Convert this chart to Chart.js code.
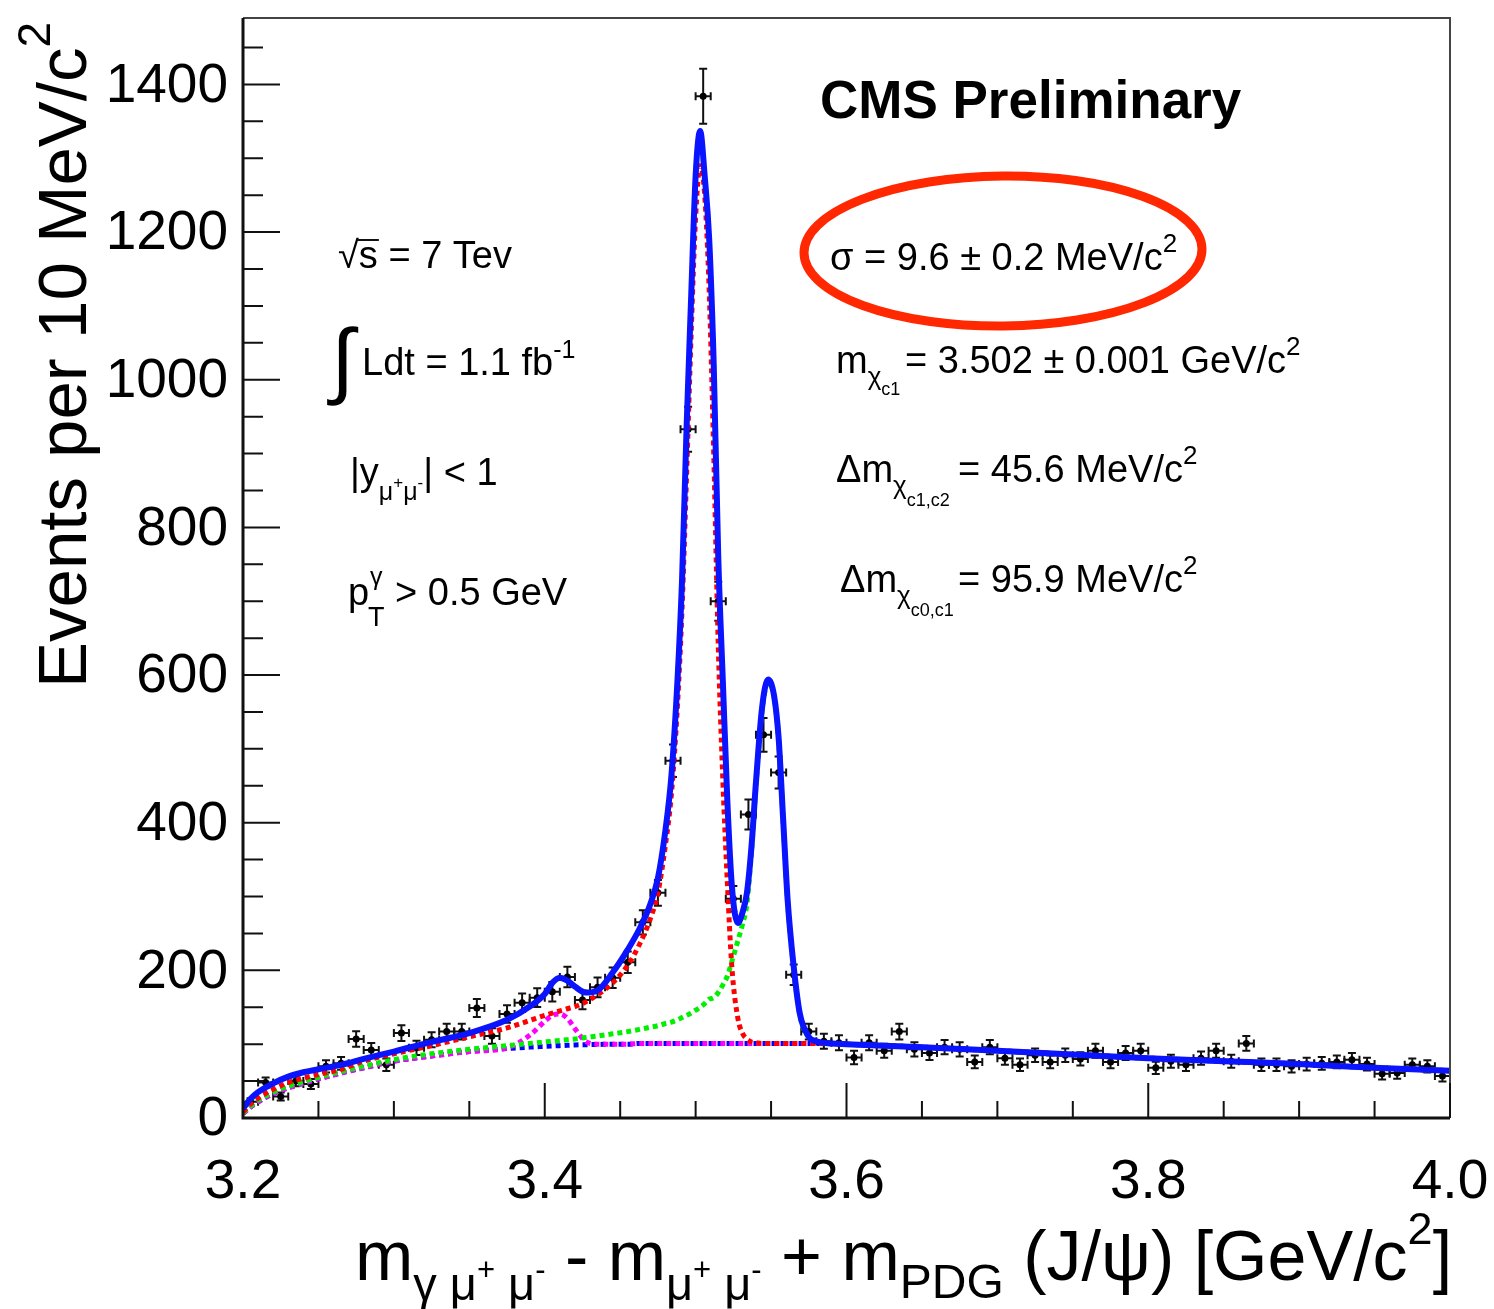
<!DOCTYPE html>
<html>
<head>
<meta charset="utf-8">
<script src="https://cdn.jsdelivr.net/npm/chart.js@4.4.1/dist/chart.umd.min.js"></script>
<style>
  html, body { margin: 0; padding: 0; background: #fff; }
  canvas { display: block; }
</style>
</head>
<body>
<canvas id="plot" width="1494" height="1309"></canvas>
<script>
// histogram: 10 MeV bins from 3.2 to 4.0 GeV
const binLow = 3.2;
const binWidth = 0.01;
const counts = [
  22, 48, 29, 50, 46, 70, 74, 107, 92, 72,
  115, 95, 106, 117, 117, 149, 111, 141, 156, 163,
  171, 191, 160, 177, 190, 211, 265, 305, 484, 933,
  1384, 700, 297, 411, 519, 468, 194, 117, 104, 102,
  82, 102, 91, 117, 93, 88, 96, 93, 76, 96,
  81, 72, 85, 76, 85, 80, 91, 76, 88, 91,
  68, 77, 72, 81, 91, 77, 101, 72, 72, 70,
  73, 74, 76, 79, 73, 60, 61, 72, 70, 57
];

// fit curves, sampled at fitX
const fitX = [
  3.200, 3.205, 3.210, 3.220, 3.230, 3.240, 3.250, 3.265, 3.280, 3.300,
  3.325, 3.350, 3.375, 3.390, 3.400, 3.405, 3.410, 3.415, 3.420, 3.427,
  3.435, 3.445, 3.455, 3.463, 3.470, 3.475, 3.480, 3.484, 3.488, 3.491,
  3.494, 3.497, 3.500, 3.503, 3.506, 3.509, 3.512, 3.515, 3.518, 3.521,
  3.524, 3.528, 3.531, 3.534, 3.537, 3.540, 3.544, 3.548, 3.552, 3.555,
  3.558, 3.561, 3.565, 3.569, 3.575, 3.580, 3.590, 3.600, 3.650, 3.700,
  3.750, 3.800, 3.850, 3.900, 3.950, 4.000
];
const fitTotal = [
  13, 26, 35, 47, 56, 62, 66, 72, 80, 90,
  103, 115, 133, 151, 168, 183, 190, 186, 178, 170,
  173, 197, 228, 257, 290, 325, 390, 465, 594, 729,
  935, 1110, 1276, 1337, 1276, 1190, 1020, 760, 594, 431,
  315, 264, 278, 305, 367, 455, 555, 594, 572, 515,
  405, 295, 205, 142, 110, 104, 101, 100, 96, 91,
  86, 81, 77, 73, 68, 64
];
const fitChiC1 = [
  8, 19, 27, 39, 48, 54, 59, 66, 77, 87,
  98, 110, 122, 132, 139, 142, 145, 148, 151, 157,
  167, 183, 207, 236, 270, 305, 370, 440, 560, 690,
  870, 1060, 1220, 1290, 1250, 1120, 900, 640, 460, 320,
  205, 135, 115, 107, 103, 102, 101, 101, 101, 101,
  101, 101, 101, 101, 101, 101, 101, 100, 96, 91,
  86, 81, 77, 73, 68, 64
];
const fitChiC2 = [
  7, 16, 24, 35, 43, 49, 55, 63, 70, 79,
  87, 93, 98, 101, 103, 104, 105, 106, 107, 109,
  111, 114, 117, 120, 123, 125, 128, 130, 133, 136,
  139, 142, 146, 150, 155, 161, 163, 170, 180, 192,
  212, 240, 262, 290, 360, 450, 550, 590, 570, 512,
  402, 292, 203, 140, 109, 103, 101, 100, 96, 91,
  86, 81, 77, 73, 68, 64
];
const fitChiC0 = [
  6, 15, 22, 33, 41, 47, 53, 61, 68, 77,
  84, 90, 95, 112, 131, 139, 141, 135, 121, 104,
  100, 100, 100, 101, 101, 101, 101, 101, 101, 101,
  101, 101, 101, 101, 101, 101, 101, 101, 101, 101,
  101, 101, 101, 101, 101, 101, 101, 101, 101, 101,
  101, 101, 101, 101, 101, 101, 101, 100, 96, 91,
  86, 81, 77, 73, 68, 64
];
const fitBkg = [
  6, 15, 22, 33, 41, 47, 53, 61, 68, 77,
  84, 90, 94, 96, 97, 97.5, 98, 98.5, 99, 99.3,
  99.6, 100, 100, 101, 101, 101, 101, 101, 101, 101,
  101, 101, 101, 101, 101, 101, 101, 101, 101, 101,
  101, 101, 101, 101, 101, 101, 101, 101, 101, 101,
  101, 101, 101, 101, 101, 101, 101, 100, 96, 91,
  86, 81, 77, 73, 68, 64
];

const xTicks = [3.2, 3.4, 3.6, 3.8, 4.0];
const xTickLabels = ['3.2', '3.4', '3.6', '3.8', '4.0'];
const yTicks = [0, 200, 400, 600, 800, 1000, 1200, 1400];
const xMinorStep = 0.05;
const yMinorStep = 50;

const FONT = '"Liberation Sans", Arial, Helvetica, sans-serif';

const binCenters = counts.map((_, i) => binLow + binWidth * (i + 0.5));
const points = binCenters.map((x, i) => ({ x: x, y: counts[i] }));
const curve = ys => fitX.map((x, i) => ({ x: x, y: ys[i] }));

// draw a run of text pieces: [text, size, dy, bold]
function drawRuns(ctx, x, y, parts) {
  for (const [t, size, dy, bold] of parts) {
    ctx.font = (bold ? 'bold ' : '') + size + 'px ' + FONT;
    ctx.fillText(t, x, y + (dy || 0));
    x += ctx.measureText(t).width;
  }
  return x;
}

const errorBars = {
  id: 'errorBars',
  beforeDatasetsDraw(chart) {
    const { ctx, scales: { x, y } } = chart;
    ctx.save();
    ctx.strokeStyle = '#111';
    ctx.lineWidth = 2;
    const cap = 4;
    points.forEach(p => {
      const err = Math.sqrt(p.y);
      const px = x.getPixelForValue(p.x);
      const py = y.getPixelForValue(p.y);
      const x0 = x.getPixelForValue(p.x - binWidth / 2);
      const x1 = x.getPixelForValue(p.x + binWidth / 2);
      const y0 = y.getPixelForValue(p.y - err);
      const y1 = y.getPixelForValue(p.y + err);
      ctx.beginPath();
      ctx.moveTo(px, y0); ctx.lineTo(px, y1);
      ctx.moveTo(px - cap, y0); ctx.lineTo(px + cap, y0);
      ctx.moveTo(px - cap, y1); ctx.lineTo(px + cap, y1);
      ctx.moveTo(x0, py); ctx.lineTo(x1, py);
      ctx.moveTo(x0, py - cap); ctx.lineTo(x0, py + cap);
      ctx.moveTo(x1, py - cap); ctx.lineTo(x1, py + cap);
      ctx.stroke();
    });
    ctx.restore();
  }
};

const frameAndText = {
  id: 'frameAndText',
  afterDraw(chart) {
    const { ctx, chartArea: a, scales: { x, y } } = chart;
    ctx.save();

    // frame
    ctx.strokeStyle = '#444';
    ctx.lineWidth = 2;
    ctx.beginPath();
    ctx.moveTo(a.left, a.top); ctx.lineTo(a.right, a.top); ctx.lineTo(a.right, a.bottom);
    ctx.stroke();
    ctx.strokeStyle = '#111';
    ctx.lineWidth = 3;
    ctx.beginPath();
    ctx.moveTo(a.left, a.top); ctx.lineTo(a.left, a.bottom); ctx.lineTo(a.right, a.bottom);
    ctx.stroke();

    // inward ticks
    ctx.lineWidth = 2;
    ctx.beginPath();
    for (let v = x.min; v <= x.max + 1e-9; v += xMinorStep) {
      const px = x.getPixelForValue(v);
      const major = xTicks.some(t => Math.abs(t - v) < 1e-6);
      ctx.moveTo(px, a.bottom); ctx.lineTo(px, a.bottom - (major ? 35 : 17));
    }
    for (let v = y.min; v <= y.max; v += yMinorStep) {
      const py = y.getPixelForValue(v);
      const major = yTicks.includes(v);
      ctx.moveTo(a.left, py); ctx.lineTo(a.left + (major ? 37 : 20), py);
    }
    ctx.stroke();

    ctx.fillStyle = '#000';

    // tick labels
    ctx.font = '55px ' + FONT;
    ctx.textAlign = 'right';
    ctx.textBaseline = 'middle';
    yTicks.forEach(v => ctx.fillText(String(v), a.left - 15, y.getPixelForValue(v) + 2));
    ctx.textAlign = 'center';
    ctx.textBaseline = 'alphabetic';
    xTicks.forEach((v, i) => ctx.fillText(xTickLabels[i], x.getPixelForValue(v), a.bottom + 80));

    ctx.textAlign = 'left';

    // y title
    ctx.save();
    ctx.translate(86, 688);
    ctx.rotate(-Math.PI / 2);
    drawRuns(ctx, 0, 0, [['Events per 10 MeV/c', 69, 0], ['2', 46, -36]]);
    ctx.restore();

    // x title
    drawRuns(ctx, 355, 1280, [
      ['m', 70, 0], ['γ μ', 47, 20], ['+', 31, 0], [' μ', 47, 20], ['-', 31, 0],
      [' - m', 70, 0], ['μ', 47, 20], ['+', 31, 0], [' μ', 47, 20], ['-', 31, 0],
      [' + m', 70, 0], ['PDG', 48, 18], [' (J/ψ) [GeV/c', 70, 0], ['2', 45, -36], [']', 70, 0]
    ]);

    // header
    drawRuns(ctx, 820, 118, [['CMS Preliminary', 53, 0, true]]);

    // selection labels
    const e = drawRuns(ctx, 338, 268, [['√', 38, 0]]);
    const sEnd = drawRuns(ctx, e, 268, [['s', 38, 0]]);
    ctx.lineWidth = 2;
    ctx.beginPath(); ctx.moveTo(e - 2, 240); ctx.lineTo(sEnd + 1, 240); ctx.stroke();
    drawRuns(ctx, sEnd, 268, [[' = 7 Tev', 38, 0]]);

    drawRuns(ctx, 331, 388, [['∫', 84, 0]]);
    drawRuns(ctx, 362, 375, [['Ldt = 1.1 fb', 38, 0], ['-1', 25, -17]]);

    drawRuns(ctx, 350, 485, [
      ['|y', 38, 0], ['μ', 25, 15], ['+', 17, 3], ['μ', 25, 15], ['-', 17, 3], ['| < 1', 38, 0]
    ]);

    drawRuns(ctx, 348, 605, [['p', 38, 0]]);
    drawRuns(ctx, 370, 605, [['γ', 25, -20]]);
    drawRuns(ctx, 368, 626, [['T', 27, 0]]);
    drawRuns(ctx, 395, 605, [['> 0.5 GeV', 38, 0]]);

    // fit results
    drawRuns(ctx, 830, 270, [['σ = 9.6 ± 0.2 MeV/c', 38, 0], ['2', 26, -18]]);
    drawRuns(ctx, 836, 373, [['m', 38, 0], ['χ', 26, 12], ['c1', 18, 22]]);
    drawRuns(ctx, 905, 373, [['= 3.502 ± 0.001 GeV/c', 38, 0], ['2', 26, -18]]);
    drawRuns(ctx, 836, 482, [['Δm', 38, 0], ['χ', 26, 12], ['c1,c2', 18, 24]]);
    drawRuns(ctx, 958, 482, [['= 45.6 MeV/c', 38, 0], ['2', 26, -18]]);
    drawRuns(ctx, 840, 592, [['Δm', 38, 0], ['χ', 26, 12], ['c0,c1', 18, 24]]);
    drawRuns(ctx, 958, 592, [['= 95.9 MeV/c', 38, 0], ['2', 26, -18]]);

    // highlight around the resolution
    ctx.strokeStyle = 'rgb(255, 40, 0)';
    ctx.lineWidth = 9;
    ctx.beginPath();
    ctx.ellipse(1003, 251, 199, 75, -0.01, 0, Math.PI * 2);
    ctx.stroke();

    ctx.restore();
  }
};

const dotted = (label, ys, color, order) => ({
  label: label,
  data: curve(ys),
  showLine: true,
  borderColor: color,
  borderWidth: 5,
  borderDash: [5, 4],
  pointRadius: 0,
  cubicInterpolationMode: 'monotone',
  order: order
});

new Chart(document.getElementById('plot'), {
  type: 'scatter',
  data: {
    datasets: [
      {
        label: 'data',
        data: points,
        pointRadius: 3.5,
        pointBackgroundColor: '#000',
        pointBorderColor: '#000',
        pointBorderWidth: 0,
        showLine: false,
        order: 10
      },
      dotted('background', fitBkg, 'rgb(0, 0, 255)', 5),
      dotted('chi_c0', fitChiC0, 'rgb(255, 0, 255)', 4),
      dotted('chi_c2', fitChiC2, 'rgb(0, 240, 0)', 3),
      dotted('chi_c1', fitChiC1, 'rgb(255, 0, 0)', 2),
      {
        label: 'total',
        data: curve(fitTotal),
        showLine: true,
        borderColor: 'rgb(10, 20, 255)',
        borderWidth: 6,
        pointRadius: 0,
        cubicInterpolationMode: 'monotone',
        order: 1
      }
    ]
  },
  options: {
    responsive: false,
    animation: false,
    layout: { autoPadding: false, padding: { left: 0, right: 44, top: 18, bottom: 0 } },
    plugins: { legend: { display: false }, tooltip: { enabled: false } },
    scales: {
      x: {
        type: 'linear',
        min: 3.2,
        max: 4.0,
        afterFit: s => { s.height = 191; },
        grid: { display: false, drawTicks: false },
        border: { display: false },
        ticks: { display: false }
      },
      y: {
        type: 'linear',
        min: 0,
        max: 1490,
        afterFit: s => { s.width = 243; },
        grid: { display: false, drawTicks: false },
        border: { display: false },
        ticks: { display: false }
      }
    }
  },
  plugins: [errorBars, frameAndText]
});
</script>
</body>
</html>
